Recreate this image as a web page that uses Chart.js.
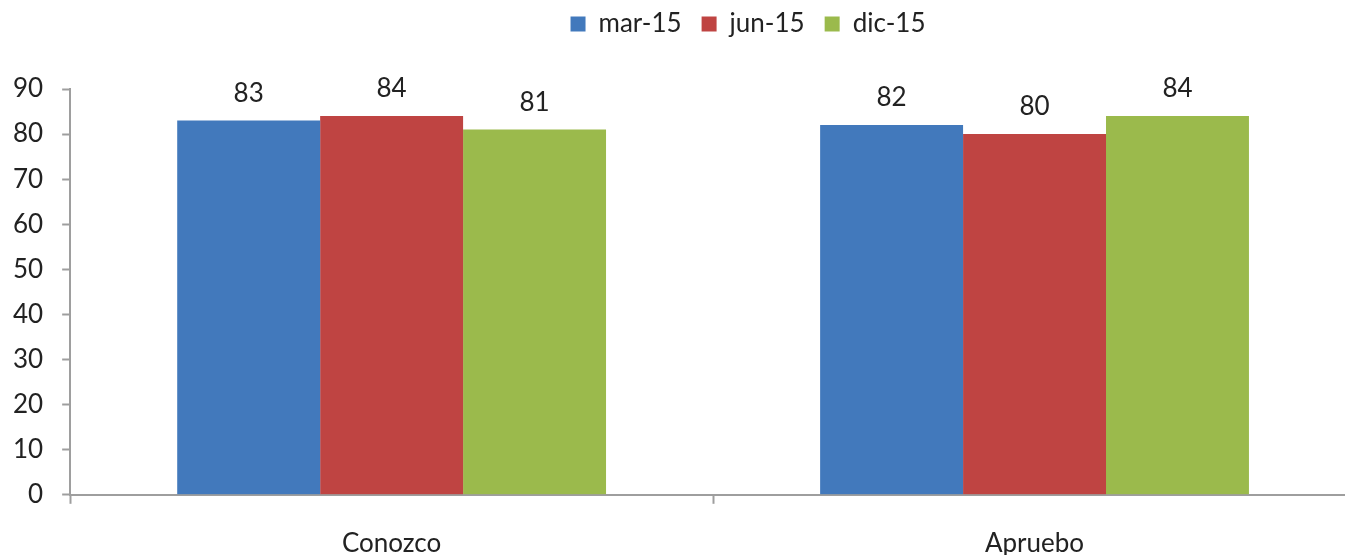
<!DOCTYPE html>
<html>
<head>
<meta charset="utf-8">
<script src="https://cdn.jsdelivr.net/npm/chart.js@4"></script>
<style>
  html, body { margin: 0; padding: 0; background: #fff; overflow: hidden; }
  #wrap { width: 1345px; height: 555px; overflow: hidden; }
</style>
</head>
<body>
<div id="wrap"><canvas id="grafico" width="1496" height="555"></canvas></div>
<script>
const categorias = ['Conozco', 'Apruebo'];
const series = ['mar-15', 'jun-15', 'dic-15'];
const marzo = [83, 82];
const junio = [84, 80];
const diciembre = [81, 84];
const colores = ['#4279BC', '#BF4442', '#9BBA4C'];

const ctx = document.getElementById('grafico');

Chart.defaults.font.family = 'Lato, "Open Sans", sans-serif';
Chart.defaults.font.size = 26;
Chart.defaults.color = '#222';

// pinta el valor encima de cada barra
const etiquetas = {
  id: 'etiquetas',
  afterDatasetsDraw(chart) {
    const c = chart.ctx;
    c.save();
    c.font = '26px Lato, "Open Sans", sans-serif';
    c.fillStyle = '#222';
    c.textAlign = 'center';
    c.textBaseline = 'middle';
    chart.data.datasets.forEach((ds, i) => {
      chart.getDatasetMeta(i).data.forEach((bar, j) => {
        c.fillText(ds.data[j], bar.x, bar.y - 27);
      });
    });
    c.restore();
  }
};

// más aire bajo la leyenda y la leyenda algo corrida a la derecha
const espacioLeyenda = {
  id: 'espacioLeyenda',
  beforeInit(chart) {
    const leyenda = chart.legend;
    const fitOriginal = leyenda.fit;
    const drawOriginal = leyenda.draw;
    leyenda.fit = function () {
      fitOriginal.call(this);
      this.height += 42;
    };
    leyenda.draw = function () {
      const c = this.ctx;
      c.save();
      c.translate(73, 0);
      drawOriginal.call(this);
      c.restore();
    };
  }
};

new Chart(ctx, {
  type: 'bar',
  data: {
    labels: categorias,
    datasets: [
      { label: series[0], data: marzo, backgroundColor: colores[0] },
      { label: series[1], data: junio, backgroundColor: colores[1] },
      { label: series[2], data: diciembre, backgroundColor: colores[2] }
    ]
  },
  options: {
    responsive: false,
    animation: false,
    layout: { padding: { left: -6, right: 140, top: -9, bottom: -28 } },
    datasets: {
      bar: { categoryPercentage: 0.667, barPercentage: 1.0, borderWidth: 0 }
    },
    plugins: {
      tooltip: { enabled: false },
      legend: {
        position: 'top',
        labels: { boxWidth: 15, boxHeight: 15, padding: 20, color: '#222' }
      }
    },
    scales: {
      x: {
        border: { color: '#9E9E9E', width: 2 },
        grid: { display: true, drawOnChartArea: false, offset: true, tickLength: 9, tickColor: '#9E9E9E', tickWidth: 2 },
        ticks: { padding: 24, color: '#222' }
      },
      y: {
        min: 0,
        max: 90,
        border: { color: '#9E9E9E', width: 2 },
        grid: { display: true, drawOnChartArea: false, tickLength: 8, tickColor: '#9E9E9E', tickWidth: 2 },
        ticks: { stepSize: 10, padding: 19, color: '#222' }
      }
    }
  },
  plugins: [espacioLeyenda, etiquetas]
});
</script>
</body>
</html>
